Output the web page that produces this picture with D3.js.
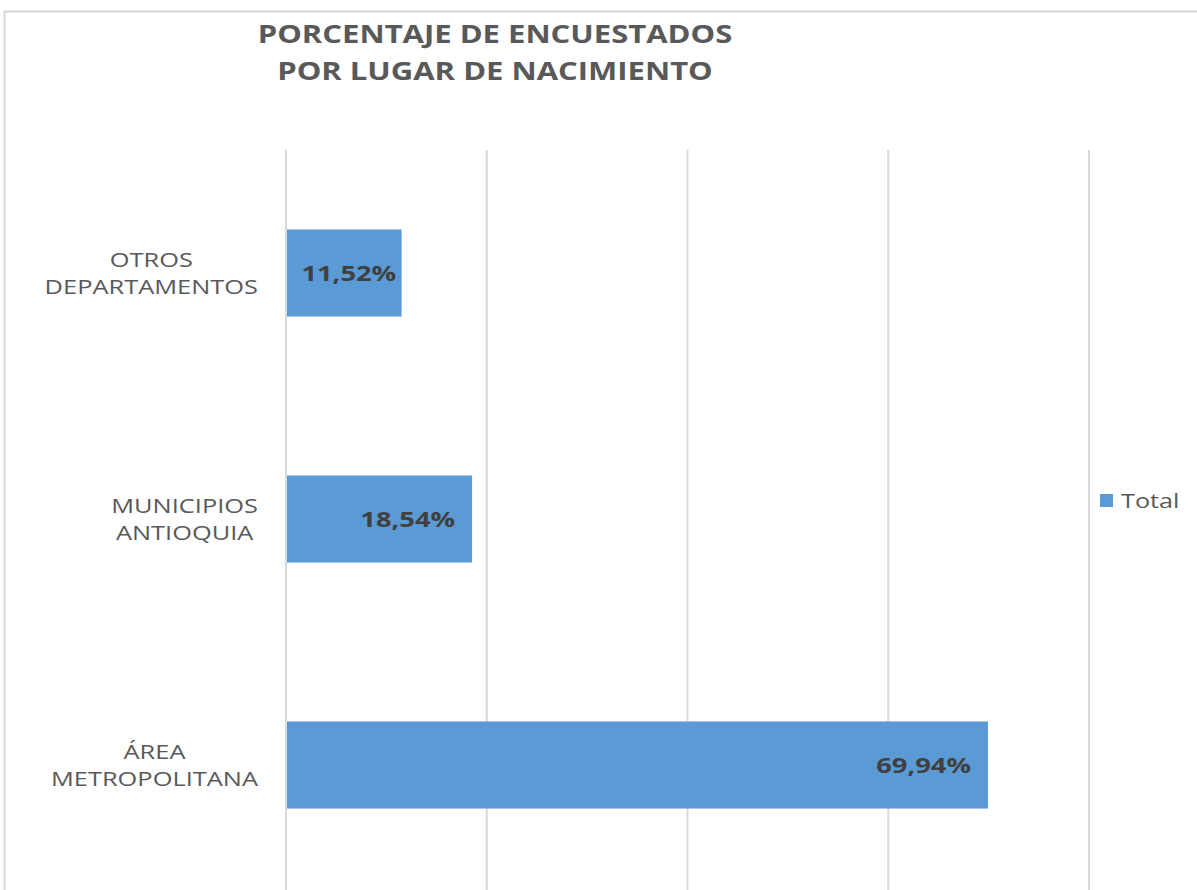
<!DOCTYPE html>
<html>
<head>
<meta charset="utf-8">
<script src="https://cdn.jsdelivr.net/npm/d3@7"></script>
<style>
  body { margin: 0; background: #fff; }
  svg { display: block; }
  text { font-family: "Open Sans", "Noto Sans", sans-serif; }
</style>
</head>
<body>
<svg id="chart" width="1197" height="890"></svg>
<script>
var categories = ["OTROS|DEPARTAMENTOS", "MUNICIPIOS|ANTIOQUIA", "ÁREA|METROPOLITANA"];
var values = [11.52, 18.54, 69.94];
var valueLabels = ["11,52%", "18,54%", "69,94%"];
var gridTicks = [0, 20, 40, 60, 80];
var titleLines = ["PORCENTAJE DE ENCUESTADOS", "POR LUGAR DE NACIMIENTO"];
var seriesName = "Total";

var svg = d3.select("#chart");
var barColor = "#5b9bd5";
var gridColor = "#d9d9d9";

// the original picture is wider than tall, so text gets stretched sideways
function widen(sel, k) {
  sel.each(function() {
    var w = this.getComputedTextLength();
    d3.select(this).attr("textLength", w * k).attr("lengthAdjust", "spacingAndGlyphs");
  });
}

// chart frame
svg.append("path")
  .attr("d", "M4.5,890 V11.5 H1197")
  .attr("fill", "none")
  .attr("stroke", gridColor)
  .attr("stroke-width", 2);

var x = d3.scaleLinear().domain([0, 80]).range([286, 1089]);
var y = d3.scaleBand().domain(categories).range([150, 888]).paddingInner(0.646).paddingOuter(0.323);

// gridlines
svg.append("g").selectAll("line")
  .data(gridTicks)
  .enter().append("line")
  .attr("x1", function(d) { return x(d); })
  .attr("x2", function(d) { return x(d); })
  .attr("y1", 150)
  .attr("y2", 890)
  .attr("stroke", gridColor)
  .attr("stroke-width", 2);

// bars
svg.append("g").selectAll("rect")
  .data(values)
  .enter().append("rect")
  .attr("x", x(0) + 1)
  .attr("y", function(d, i) { return y(categories[i]); })
  .attr("width", function(d) { return x(d) - x(0) - 1; })
  .attr("height", y.bandwidth())
  .attr("fill", barColor);

// value labels
var vl = svg.append("g").selectAll("text")
  .data(values)
  .enter().append("text")
  .attr("y", function(d, i) { return y(categories[i]) + y.bandwidth() / 2 + 8; })
  .attr("font-size", 22)
  .attr("font-weight", "bold")
  .attr("fill", "#404040")
  .text(function(d, i) { return valueLabels[i]; });

vl.each(function(d) {
  var w = this.getComputedTextLength() * 1.24;
  var end = x(d) - 17;
  if (end - w < x(0) + 14) {
    d3.select(this).attr("text-anchor", "middle").attr("x", (x(0) + x(d)) / 2 + 5);
  } else {
    d3.select(this).attr("text-anchor", "end").attr("x", end);
  }
});
widen(vl, 1.24);

// category labels, lines centred, block right-aligned
categories.forEach(function(c, i) {
  var g = svg.append("g");
  var lines = c.split("|");
  var cy = y(c) + y.bandwidth() / 2;
  var t = g.selectAll("text")
    .data(lines)
    .enter().append("text")
    .attr("y", function(d, j) { return cy - 6 + j * 27; })
    .attr("font-size", 20)
    .attr("fill", "#595959")
    .attr("text-anchor", "middle")
    .text(function(d) { return d; });
  var maxW = 0;
  t.each(function() { maxW = Math.max(maxW, this.getComputedTextLength() * 1.27); });
  t.attr("x", 258 - maxW / 2);
  widen(t, 1.27);
});

// title
var tt = svg.append("g").selectAll("text")
  .data(titleLines)
  .enter().append("text")
  .attr("x", 495)
  .attr("y", function(d, i) { return 43 + i * 37; })
  .attr("text-anchor", "middle")
  .attr("font-size", 25)
  .attr("font-weight", "bold")
  .attr("fill", "#595959")
  .text(function(d) { return d; });
widen(tt, 1.24);

// legend
var lg = svg.append("g").attr("transform", "translate(1100,494)");
lg.append("rect").attr("width", 13).attr("height", 13).attr("fill", barColor);
var lt = lg.append("text")
  .attr("x", 21)
  .attr("y", 14)
  .attr("font-size", 20)
  .attr("fill", "#595959")
  .text(seriesName);
widen(lt, 1.26);
</script>
</body>
</html>
